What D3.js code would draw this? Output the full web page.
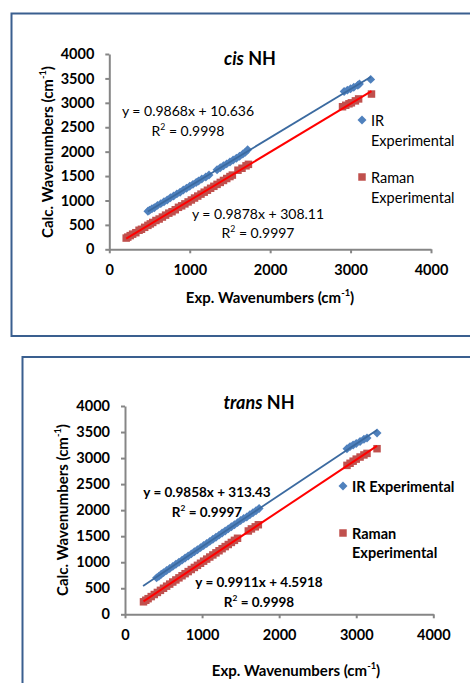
<!DOCTYPE html>
<html>
<head>
<meta charset="utf-8">
<script src="https://cdn.jsdelivr.net/npm/d3@7"></script>
<style>
  body { margin: 0; background: #fff; }
  svg { display: block; font-family: Lato, "Open Sans", sans-serif; }
</style>
</head>
<body>
<svg width="470" height="683"></svg>
<script>
// cis NH, experimental vs calculated wavenumbers
var cisIrX = [480, 500, 530, 560, 600, 640, 680, 720, 760, 800, 840, 880, 920, 960, 1000, 1040, 1080, 1110, 1150, 1200, 1240,
  1340, 1380, 1420, 1460, 1500, 1540, 1580, 1620, 1660, 1690, 1720, 2920, 2960, 3000, 3040, 3090, 3110, 3250];
var cisIrY = [780, 800, 830, 850, 900, 935, 975, 1010, 1055, 1090, 1135, 1170, 1215, 1250, 1290, 1330, 1370, 1400, 1440, 1480, 1520,
  1630, 1670, 1710, 1750, 1790, 1830, 1865, 1905, 1950, 1985, 2040, 3230, 3260, 3290, 3320, 3360, 3385, 3480];
var cisRamanX = [210, 230, 260, 290, 330, 370, 400, 440, 480, 510, 540, 580, 620, 660, 700, 740, 780, 820, 860, 900, 940, 980,
  1020, 1060, 1100, 1140, 1180, 1220, 1260, 1300, 1340, 1380, 1420, 1460, 1500, 1530, 1600, 1650, 1700, 1730,
  2900, 2940, 2980, 3010, 3060, 3100, 3260];
var cisRamanY = [230, 250, 280, 310, 340, 390, 410, 450, 490, 520, 550, 590, 620, 660, 700, 740, 770, 810, 860, 890, 930, 970,
  1010, 1050, 1090, 1130, 1170, 1210, 1250, 1290, 1330, 1370, 1410, 1450, 1490, 1520, 1620, 1660, 1710, 1740,
  2920, 2950, 2980, 3000, 3040, 3080, 3180];

// trans NH
var transIrX = [410, 440, 470, 500, 540, 580, 620, 660, 700, 740, 780, 820, 860, 900, 940, 980, 1020, 1060, 1100, 1140, 1180,
  1220, 1260, 1300, 1340, 1380, 1420, 1460, 1500, 1540, 1580, 1620, 1660, 1700, 1740,
  2880, 2920, 2960, 3000, 3050, 3100, 3140, 3270];
var transIrY = [700, 730, 770, 800, 840, 880, 920, 960, 1000, 1040, 1080, 1120, 1160, 1200, 1240, 1280, 1320, 1360, 1400, 1440, 1480,
  1520, 1560, 1600, 1640, 1680, 1720, 1760, 1800, 1840, 1870, 1910, 1950, 1990, 2030,
  3180, 3220, 3250, 3280, 3320, 3360, 3385, 3480];
var transRamanX = [240, 270, 300, 340, 380, 420, 460, 500, 540, 580, 620, 660, 700, 740, 780, 820, 860, 900, 940, 980, 1020,
  1060, 1100, 1140, 1180, 1220, 1260, 1300, 1340, 1380, 1420, 1460, 1600, 1640, 1690, 1730,
  2880, 2920, 2960, 3000, 3050, 3100, 3140, 3270];
var transRamanY = [240, 270, 300, 340, 380, 420, 460, 500, 540, 580, 620, 660, 700, 740, 780, 820, 860, 900, 940, 980, 1020,
  1060, 1100, 1140, 1180, 1220, 1260, 1300, 1340, 1380, 1420, 1460, 1600, 1640, 1680, 1720,
  2860, 2900, 2940, 2980, 3020, 3060, 3090, 3180];

var axisTicks = [0, 1000, 2000, 3000, 4000];
var axisTicksY = [0, 500, 1000, 1500, 2000, 2500, 3000, 3500, 4000];

var cisLabels = ["y = 0.9868x + 10.636", "R² = 0.9998", "y = 0.9878x + 308.11", "R² = 0.9997"];
var transLabels = ["y = 0.9858x + 313.43", "R² = 0.9997", "y = 0.9911x + 4.5918", "R² = 0.9998"];

var blue = "#4f81bd", red = "#c0504d";

var svg = d3.select("svg");

function fit(xs, ys) {
  var mx = d3.mean(xs), my = d3.mean(ys);
  var num = d3.sum(xs, function(d, i) { return (d - mx) * (ys[i] - my); });
  var den = d3.sum(xs, function(d) { return (d - mx) * (d - mx); });
  var m = num / den;
  return {m: m, b: my - m * mx};
}

function supText(sel, base, sup, tail) {
  sel.append("tspan").text(base);
  sel.append("tspan").attr("font-size", "0.62em").attr("dy", "-0.5em").text(sup);
  if (tail) sel.append("tspan").attr("dy", "0.31em").text(tail);
}

function drawPanel(p) {
  // frame
  svg.append("rect")
    .attr("x", p.frame[0]).attr("y", p.frame[1])
    .attr("width", p.frame[2]).attr("height", p.frame[3])
    .attr("fill", "none").attr("stroke", "#3a5f8f").attr("stroke-width", 2);

  var x = d3.scaleLinear().domain([0, 4000]).range([p.left, p.right]);
  var y = d3.scaleLinear().domain([0, 4000]).range([p.bottom, p.top]);

  var g = svg.append("g");

  var xAxis = g.append("g")
    .attr("transform", "translate(0," + p.bottom + ")")
    .call(d3.axisBottom(x).tickValues(axisTicks).tickFormat(d3.format("d"))
      .tickSize(4).tickPadding(11).tickSizeOuter(0));
  var yAxis = g.append("g")
    .attr("transform", "translate(" + p.left + ",0)")
    .call(d3.axisLeft(y).tickValues(axisTicksY).tickFormat(d3.format("d"))
      .tickSize(4).tickPadding(11).tickSizeOuter(0));

  [xAxis, yAxis].forEach(function(a) {
    a.select(".domain").attr("stroke", "#868686").attr("stroke-width", 2);
    a.selectAll(".tick line").attr("stroke", "#868686").attr("stroke-width", 2);
    a.selectAll(".tick text")
      .attr("fill", "#000").attr("font-size", 14.5).attr("font-weight", "bold")
      .attr("font-family", "Lato, sans-serif");
  });

  // markers
  var sq = d3.symbol().type(d3.symbolSquare).size(56);
  var dm = d3.symbol().type(d3.symbolSquare).size(40);

  g.append("g").selectAll("path")
    .data(p.ramanX)
    .enter().append("path")
    .attr("d", sq)
    .attr("fill", red)
    .attr("transform", function(d, i) { return "translate(" + x(d) + "," + y(p.ramanY[i]) + ")"; });

  g.append("g").selectAll("path")
    .data(p.irX)
    .enter().append("path")
    .attr("d", dm)
    .attr("fill", blue)
    .attr("transform", function(d, i) { return "translate(" + x(d) + "," + y(p.irY[i]) + ") rotate(45)"; });

  // trendlines
  var line = d3.line().x(function(d) { return x(d[0]); }).y(function(d) { return y(d[1]); });
  var fIr = fit(p.irX, p.irY);
  var irFrom = p.irFitFrom || d3.min(p.irX);
  var irTo = d3.max(p.irX);
  g.append("path")
    .attr("d", line([[irFrom, fIr.m * irFrom + fIr.b], [irTo, fIr.m * irTo + fIr.b]]))
    .attr("stroke", "#3b6aa0").attr("stroke-width", 1.8).attr("fill", "none");

  var fRa = fit(p.ramanX, p.ramanY);
  var raFrom = d3.min(p.ramanX), raTo = d3.max(p.ramanX);
  g.append("path")
    .attr("d", line([[raFrom, fRa.m * raFrom + fRa.b], [raTo, fRa.m * raTo + fRa.b]]))
    .attr("stroke", "#ff0000").attr("stroke-width", 2).attr("fill", "none");

  // title
  var t = svg.append("text")
    .attr("x", p.titlePos[0]).attr("y", p.titlePos[1])
    .attr("text-anchor", "middle").attr("dominant-baseline", "central")
    .attr("font-size", 18).attr("font-weight", "bold");
  t.append("tspan").attr("font-style", "italic").text(p.title[0]);
  t.append("tspan").text(" " + p.title[1]);

  // axis titles
  var xt = svg.append("text")
    .attr("x", p.xTitlePos[0]).attr("y", p.xTitlePos[1])
    .attr("text-anchor", "middle").attr("dominant-baseline", "central")
    .attr("font-size", 15).attr("font-weight", "bold");
  supText(xt, "Exp. Wavenumbers (cm", "-1", ")");

  var yt = svg.append("text")
    .attr("transform", "translate(" + p.yTitlePos[0] + "," + p.yTitlePos[1] + ") rotate(-90)")
    .attr("text-anchor", "middle").attr("dominant-baseline", "central")
    .attr("font-size", 15).attr("font-weight", "bold");
  supText(yt, "Calc. Wavenumbers (cm", "-1", ")");

  // equations
  p.labels.forEach(function(s, i) {
    var lt = svg.append("text")
      .attr("x", p.labelPos[i][0]).attr("y", p.labelPos[i][1])
      .attr("text-anchor", "middle").attr("dominant-baseline", "central")
      .attr("font-size", p.labelBold ? 13.5 : 14)
      .attr("font-weight", p.labelBold ? "bold" : "normal");
    if (s.indexOf("²") >= 0) supText(lt, "R", "2", s.slice(2));
    else lt.text(s);
  });

  // legend
  var lg = svg.append("g").attr("font-size", 14.5).attr("font-weight", p.labelBold ? "bold" : "normal");
  lg.append("path").attr("d", dm).attr("fill", blue)
    .attr("transform", "translate(" + p.legIr[0] + "," + p.legIr[1] + ") rotate(45)");
  lg.append("path").attr("d", sq).attr("fill", red)
    .attr("transform", "translate(" + p.legRa[0] + "," + p.legRa[1] + ")");
  p.legText.forEach(function(row) {
    lg.append("text").attr("x", row[1]).attr("y", row[2])
      .attr("dominant-baseline", "central").text(row[0]);
  });
}

drawPanel({
  frame: [11.5, 13.5, 470, 322.5],
  left: 109.3, right: 431, bottom: 249.3, top: 54,
  irX: cisIrX, irY: cisIrY, ramanX: cisRamanX, ramanY: cisRamanY,
  title: ["cis", "NH"], titlePos: [250, 58],
  xTitlePos: [270, 297], yTitlePos: [47, 152],
  labels: cisLabels, labelBold: false,
  labelPos: [[188, 110], [188, 130], [258, 213], [258, 232]],
  legIr: [362, 120], legRa: [362, 177],
  legText: [["IR", 371, 120], ["Experimental", 371, 140], ["Raman", 371, 177], ["Experimental", 371, 197]]
});

drawPanel({
  frame: [22.5, 357, 460, 340],
  left: 125, right: 433.3, bottom: 614.3, top: 406,
  irX: transIrX, irY: transIrY, ramanX: transRamanX, ramanY: transRamanY,
  irFitFrom: 234,
  title: ["trans", "NH"], titlePos: [259, 402],
  xTitlePos: [296, 670], yTitlePos: [62, 510],
  labels: transLabels, labelBold: true,
  labelPos: [[207, 492], [207, 512], [259, 582], [259, 602]],
  legIr: [343, 486], legRa: [343, 533],
  legText: [["IR Experimental", 352, 486], ["Raman", 352, 533], ["Experimental", 352, 552]]
});
</script>
</body>
</html>
